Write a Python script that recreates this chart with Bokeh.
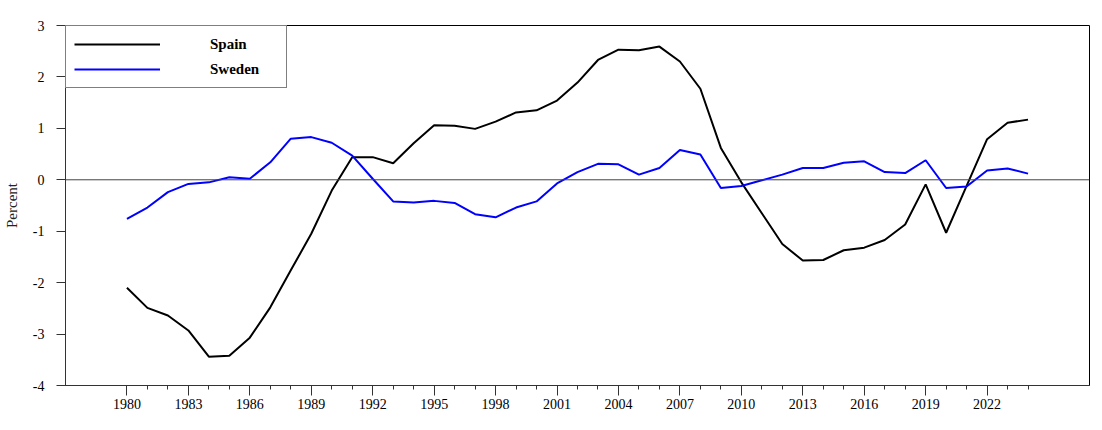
from bokeh.plotting import figure
from bokeh.models import FixedTicker, Span, Legend, LegendItem, Range1d, PrintfTickFormatter
from bokeh.embed import file_html
from bokeh.resources import INLINE

years = list(range(1980, 2025))
spain = [-2.10, -2.49, -2.64, -2.93, -3.44, -3.42, -3.07, -2.48, -1.76, -1.05,
         -0.21, 0.44, 0.44, 0.32, 0.71, 1.06, 1.05, 0.99, 1.13, 1.31,
         1.35, 1.54, 1.89, 2.33, 2.53, 2.52, 2.59, 2.30, 1.77, 0.62,
         -0.05, -0.65, -1.25, -1.57, -1.56, -1.37, -1.32, -1.17, -0.87, -0.09,
         -1.03, -0.12, 0.79, 1.11, 1.17]
sweden = [-0.76, -0.54, -0.24, -0.08, -0.05, 0.05, 0.02, 0.34, 0.80, 0.83,
          0.72, 0.47, 0.02, -0.42, -0.44, -0.41, -0.45, -0.67, -0.73, -0.54,
          -0.42, -0.07, 0.15, 0.31, 0.30, 0.10, 0.23, 0.58, 0.49, -0.16,
          -0.12, -0.01, 0.10, 0.23, 0.23, 0.33, 0.36, 0.15, 0.13, 0.38,
          -0.16, -0.13, 0.18, 0.22, 0.12]
series_names = ["Spain", "Sweden"]
series_colors = ["black", "#0000FF"]
x_major = list(range(1980, 2025, 3))
x_minor = list(range(1980, 2025))
y_ticks = list(range(-4, 4))

FONT = "Liberation Serif"

p = figure(frame_width=1024, frame_height=360,
           min_border_left=62, min_border_right=8, min_border_top=25, min_border_bottom=37,
           x_range=Range1d(1977, 2027), y_range=Range1d(-4, 3),
           output_backend="svg", toolbar_location=None,
           background_fill_color="white", border_fill_color="white")

p.outline_line_color = "black"
p.outline_line_width = 1
p.xgrid.visible = False
p.ygrid.visible = False

zero = Span(location=0, dimension="width", line_color="#444444", line_width=1)
p.add_layout(zero)

r1 = p.line(years, spain, line_color=series_colors[0], line_width=2)
r2 = p.line(years, sweden, line_color=series_colors[1], line_width=2)

# x axis
p.xaxis.ticker = FixedTicker(ticks=x_major, minor_ticks=x_minor)
p.xaxis.formatter = PrintfTickFormatter(format="%d")
p.xaxis.major_tick_out = 10
p.xaxis.major_tick_in = 0
p.xaxis.minor_tick_out = 4
p.xaxis.minor_tick_in = 0
p.xaxis.major_label_standoff = 3
p.xaxis.major_label_text_font = FONT
p.xaxis.major_label_text_font_size = "14px"
p.xaxis.major_label_text_color = "black"
p.xaxis.axis_line_color = "#333333"
p.xaxis.major_tick_line_color = "#333333"
p.xaxis.minor_tick_line_color = "#333333"

# y axis
p.yaxis.ticker = FixedTicker(ticks=y_ticks)
p.yaxis.formatter = PrintfTickFormatter(format="%d")
p.yaxis.major_tick_out = 9
p.yaxis.major_tick_in = 0
p.yaxis.minor_tick_line_color = None
p.yaxis.major_label_standoff = 12
p.yaxis.major_label_text_font = FONT
p.yaxis.major_label_text_font_size = "14px"
p.yaxis.major_label_text_color = "black"
p.yaxis.axis_line_color = "#333333"
p.yaxis.major_tick_line_color = "#333333"
p.yaxis.axis_label = "Percent"
p.yaxis.axis_label_text_font = FONT
p.yaxis.axis_label_text_font_style = "normal"
p.yaxis.axis_label_text_font_size = "15px"
p.yaxis.axis_label_text_color = "#222222"
p.yaxis.axis_label_standoff = 10

legend = Legend(items=[LegendItem(label=series_names[0], renderers=[r1]),
                       LegendItem(label=series_names[1], renderers=[r2])],
                location="top_left", margin=0, padding=8, spacing=5,
                glyph_width=86, glyph_height=20, label_height=20,
                label_standoff=50, label_width=68,
                border_line_color="black", border_line_width=1,
                background_fill_color="white", background_fill_alpha=1,
                label_text_font=FONT, label_text_font_style="bold",
                label_text_font_size="15px", label_text_color="black")
p.add_layout(legend)

open("out.html", "w").write(file_html(p, INLINE))
